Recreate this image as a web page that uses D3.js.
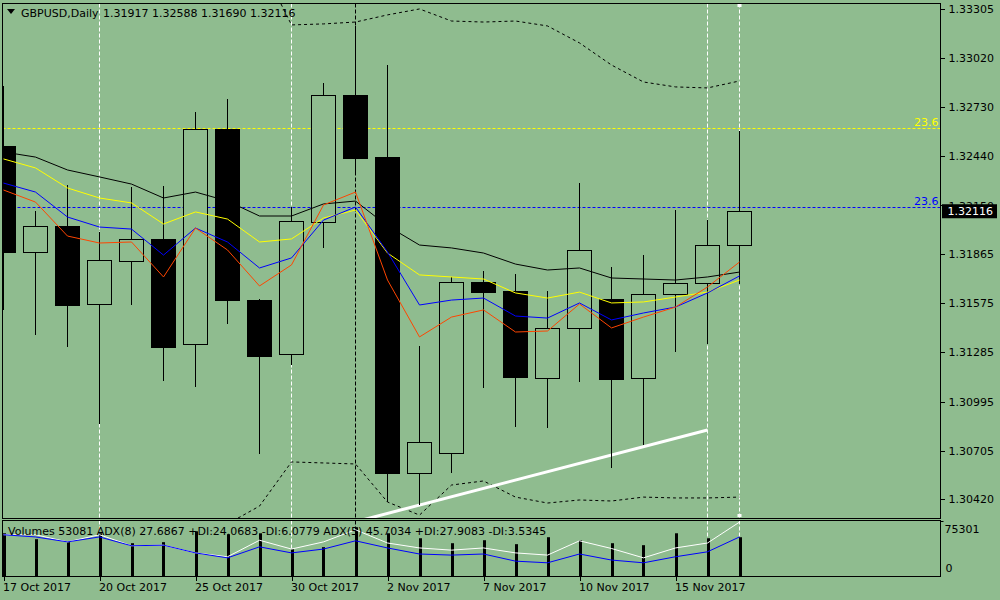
<!DOCTYPE html>
<html lang="en">
<head>
<meta charset="UTF-8">
<title>GBPUSD,Daily</title>
<script src="https://d3js.org/d3.v7.min.js"></script>
<style>
  body { margin: 0; background-color: #8fbc8f; }
  svg { display: block; }
  text { font-family: "DejaVu Sans", sans-serif; font-size: 11px; fill: #000; }
  .axis path { display: none; }
  .axis line { stroke: #000; shape-rendering: crispEdges; }
  .frame { fill: none; stroke: #000; shape-rendering: crispEdges; }
</style>
</head>
<body>
<div id="chart"></div>
<script>
// trading days
const dates = ["17 Oct 2017", "18 Oct 2017", "19 Oct 2017", "20 Oct 2017", "23 Oct 2017", "24 Oct 2017",
  "25 Oct 2017", "26 Oct 2017", "27 Oct 2017", "30 Oct 2017", "31 Oct 2017", "1 Nov 2017",
  "2 Nov 2017", "3 Nov 2017", "6 Nov 2017", "7 Nov 2017", "8 Nov 2017", "9 Nov 2017",
  "10 Nov 2017", "13 Nov 2017", "14 Nov 2017", "15 Nov 2017", "16 Nov 2017", "17 Nov 2017"];
const dateTickIdx = [0, 3, 6, 9, 12, 15, 18, 21];

// OHLC
const opens = [1.32500, 1.31876, 1.32029, 1.31570, 1.31823, 1.31953, 1.31334, 1.32600, 1.31593, 1.31275, 1.32053, 1.32800,
  1.32435, 1.30575, 1.30693, 1.31699, 1.31646, 1.31134, 1.31428, 1.31599, 1.31134, 1.31629, 1.31694, 1.31917];
const highs = [1.32853, 1.32117, 1.32271, 1.31994, 1.32259, 1.32265, 1.32700, 1.32777, 1.31599, 1.32141, 1.32871, 1.33207,
  1.32977, 1.31323, 1.31729, 1.31764, 1.31747, 1.31646, 1.32282, 1.31788, 1.31858, 1.32123, 1.32064, 1.32588];
const lows = [1.31535, 1.31387, 1.31317, 1.30863, 1.31564, 1.31116, 1.31081, 1.31452, 1.30687, 1.31211, 1.31900, 1.32329,
  1.30404, 1.30386, 1.30575, 1.31075, 1.30846, 1.30840, 1.31111, 1.30604, 1.30740, 1.31287, 1.31334, 1.31690];
const closes = [1.31876, 1.32029, 1.31564, 1.31829, 1.31953, 1.31317, 1.32600, 1.31593, 1.31264, 1.32059, 1.32800, 1.32429,
  1.30575, 1.30757, 1.31699, 1.31640, 1.31140, 1.31428, 1.31888, 1.31128, 1.31629, 1.31694, 1.31917, 1.32116];

// moving averages
const maBlack = [1.32465, 1.32435, 1.32359, 1.32318, 1.32276, 1.32194, 1.32229, 1.32176, 1.32088, 1.32088, 1.32159, 1.32176,
  1.32029, 1.31917, 1.31900, 1.31870, 1.31805, 1.31770, 1.31782, 1.31723, 1.31717, 1.31711, 1.31729, 1.31758];
const maYellow = [1.32424, 1.32371, 1.32253, 1.32194, 1.32165, 1.32041, 1.32112, 1.32070, 1.31935, 1.31953, 1.32076, 1.32123,
  1.31870, 1.31741, 1.31729, 1.31717, 1.31635, 1.31605, 1.31640, 1.31576, 1.31582, 1.31611, 1.31640, 1.31711];
const maBlue = [1.32282, 1.32229, 1.32082, 1.32023, 1.32011, 1.31858, 1.32017, 1.31935, 1.31782, 1.31841, 1.32064, 1.32141,
  1.31876, 1.31564, 1.31593, 1.31605, 1.31499, 1.31487, 1.31576, 1.31476, 1.31517, 1.31552, 1.31635, 1.31735];
const maRed = [1.32241, 1.32170, 1.31970, 1.31929, 1.31935, 1.31729, 1.32017, 1.31888, 1.31676, 1.31800, 1.32153, 1.32229,
  1.31711, 1.31376, 1.31493, 1.31535, 1.31405, 1.31411, 1.31570, 1.31429, 1.31493, 1.31552, 1.31670, 1.31817];

// dashed bands
const bandUpper = [null, null, null, null, null, null, null, null, 1.33589, 1.33213, 1.33219, 1.33230,
  1.33272, 1.33307, 1.33236, 1.33230, 1.33236, 1.33207, 1.33107, 1.32977, 1.32877, 1.32848, 1.32842, 1.32883];
const bandLower = [null, null, null, null, null, null, null, 1.30275, 1.30380, 1.30640, 1.30634, 1.30628,
  1.30404, 1.30327, 1.30504, 1.30528, 1.30433, 1.30398, 1.30416, 1.30410, 1.30433, 1.30428, 1.30428, 1.30433];

// fibo levels
const fibValues = [1.32609, 1.32141];
const fibLabels = ["23.6", "23.6"];

// trend line (two anchor points: index, price)
const trendIdx = [13, 22];
const trendPrice = [1.30386, 1.30828];

// vertical lines
const whiteLines = [3, 9, 22, 23];
const blackLines = [11];

// sub window
const volumes = [58500, 50400, 46300, 58500, 44900, 46300, 61200, 57200, 58500, 36700, 39500, 66700,
  58500, 51700, 44900, 49000, 43600, 53100, 49000, 44900, 42200, 58500, 51700, 53081];
const adxWhite = [75, 75, 62, 75, 55, 56, 42, 35, 65, 49, 62, 84, 60, 51, 47, 51, 42, 38, 64, 50, 33, 51, 60, 98];
const adxBlue = [75, 71, 62, 71, 55, 56, 42, 33, 53, 42, 49, 64, 51, 40, 38, 40, 27, 24, 40, 29, 24, 35, 44, 71];
const volMax = 75301;

const priceTicks = [1.33305, 1.33020, 1.32730, 1.32440, 1.32150, 1.31865, 1.31575, 1.31285, 1.30995, 1.30705, 1.30420];

const headerText = "GBPUSD,Daily";
const headerValues = "1.31917 1.32588 1.31690 1.32116";
const subText = "Volumes 53081  ADX(8) 27.6867 +DI:24.0683 -DI:6.0779  ADX(5) 45.7034 +DI:27.9083 -DI:3.5345";

// layout
const width = 1000, height = 600;
const left = 2.5, right = 940.5;
const mainTop = 3.5, mainBottom = 518.5;
const volTop = 520.5, volBottom = 576.5;
const bg = "#8fbc8f";

const svg = d3.select("#chart").append("svg")
  .attr("width", width)
  .attr("height", height);

const x = d3.scaleLinear().domain([0, 23]).range([3.5, 739.5]);
const y = d3.scaleLinear().domain([1.30420, 1.33305]).range([499.3, 9.3]);
const yVol = d3.scaleLinear().domain([0, volMax]).range([576, 521]);
const yAdx = d3.scaleLinear().domain([0, 100]).range([576, 521]);

const snap = v => Math.round(v) + 0.5;

// clip areas
const defs = svg.append("defs");
defs.append("clipPath").attr("id", "clipMain").append("rect")
  .attr("x", left + 0.5).attr("y", mainTop + 0.5)
  .attr("width", right - left - 1).attr("height", mainBottom - mainTop - 1);
defs.append("clipPath").attr("id", "clipVol").append("rect")
  .attr("x", left + 0.5).attr("y", volTop + 0.5)
  .attr("width", right - left - 1).attr("height", volBottom - volTop - 1);

const main = svg.append("g").attr("clip-path", "url(#clipMain)");
const sub = svg.append("g").attr("clip-path", "url(#clipVol)");

// vertical lines, both windows
[main, sub].forEach((g, k) => {
  const y0 = k === 0 ? mainTop : volTop;
  const y1 = k === 0 ? mainBottom : volBottom;
  g.selectAll(".vw").data(whiteLines).enter().append("line")
    .attr("x1", d => x(d)).attr("x2", d => x(d))
    .attr("y1", y0).attr("y2", y1)
    .attr("stroke", "#fff").attr("stroke-dasharray", "4,2");
  g.selectAll(".vb").data(blackLines).enter().append("line")
    .attr("x1", d => x(d)).attr("x2", d => x(d))
    .attr("y1", y0).attr("y2", y1)
    .attr("stroke", "#000").attr("stroke-dasharray", "4,2");
});

// fibo horizontal levels
const fibColors = ["#ffff00", "#0000ff"];
main.selectAll(".fib").data(fibValues).enter().append("line")
  .attr("x1", left).attr("x2", right)
  .attr("y1", d => snap(y(d))).attr("y2", d => snap(y(d)))
  .attr("stroke", (d, i) => fibColors[i])
  .attr("stroke-dasharray", "3,2");
svg.selectAll(".fibLabel").data(fibValues).enter().append("text")
  .attr("x", right - 2).attr("y", d => y(d) - 2)
  .attr("text-anchor", "end")
  .style("fill", (d, i) => fibColors[i])
  .text((d, i) => fibLabels[i]);

// dashed bands
const line = d3.line()
  .defined(d => d != null)
  .x((d, i) => x(i))
  .y(d => y(d));
[bandUpper, bandLower].forEach(b => {
  main.append("path")
    .datum(b)
    .attr("d", line)
    .attr("fill", "none")
    .attr("stroke", "#000")
    .attr("stroke-dasharray", "3,3");
});

// trend line, extended to the left
const slope = (trendPrice[1] - trendPrice[0]) / (trendIdx[1] - trendIdx[0]);
const trendStart = trendIdx[0] - 4;
main.append("line")
  .attr("x1", x(trendStart))
  .attr("y1", y(trendPrice[0] - slope * 4))
  .attr("x2", x(trendIdx[1]))
  .attr("y2", y(trendPrice[1]))
  .attr("stroke", "#fff")
  .attr("stroke-width", 3);

// candles
const idx = d3.range(dates.length);
main.selectAll(".wick").data(idx).enter().append("line")
  .attr("x1", i => x(i)).attr("x2", i => x(i))
  .attr("y1", i => y(highs[i])).attr("y2", i => y(lows[i]))
  .attr("stroke", "#000")
  .style("shape-rendering", "crispEdges");
main.selectAll(".body").data(idx).enter().append("rect")
  .attr("x", i => x(i) - 12)
  .attr("width", 24)
  .attr("y", i => snap(y(Math.max(opens[i], closes[i]))))
  .attr("height", i => Math.max(1, Math.round(y(Math.min(opens[i], closes[i])) - y(Math.max(opens[i], closes[i])))))
  .attr("fill", i => closes[i] < opens[i] ? "#000" : bg)
  .attr("stroke", "#000")
  .style("shape-rendering", "crispEdges");

// moving averages on top
const maList = [maBlack, maYellow, maBlue, maRed];
const maColors = ["#000", "#ffff00", "#0000ff", "#ff4500"];
maList.forEach((m, k) => {
  main.append("path")
    .datum(m)
    .attr("d", line)
    .attr("fill", "none")
    .attr("stroke", maColors[k])
    .attr("stroke-width", 1);
});

// little white markers of the last vertical line
main.append("rect").attr("x", x(23) - 2).attr("y", 4).attr("width", 4).attr("height", 3).attr("fill", "#fff");
main.append("rect").attr("x", x(23) - 2).attr("y", 514).attr("width", 4).attr("height", 3).attr("fill", "#fff");

// volume bars
sub.selectAll(".vol").data(volumes).enter().append("rect")
  .attr("x", (d, i) => Math.round(x(i)) - 1)
  .attr("width", 3)
  .attr("y", d => yVol(d))
  .attr("height", d => yVol(0) - yVol(d))
  .attr("fill", "#000");

const adxLine = d3.line().x((d, i) => x(i)).y(d => yAdx(d));
sub.append("path").datum(adxWhite).attr("d", adxLine)
  .attr("fill", "none").attr("stroke", "#fff");
sub.append("path").datum(adxBlue).attr("d", adxLine)
  .attr("fill", "none").attr("stroke", "#0000ff");

// frames
svg.append("rect").attr("class", "frame")
  .attr("x", left).attr("y", mainTop)
  .attr("width", right - left).attr("height", mainBottom - mainTop);
svg.append("rect").attr("class", "frame")
  .attr("x", left).attr("y", volTop)
  .attr("width", right - left).attr("height", volBottom - volTop);

// price axis
const yAxis = svg.append("g")
  .attr("class", "axis")
  .attr("transform", `translate(${right},0)`)
  .call(d3.axisRight(y).tickValues(priceTicks).tickSize(4).tickPadding(4).tickFormat(d3.format(".5f")));
yAxis.selectAll("text").style("font-family", "DejaVu Sans").style("font-size", "11px").attr("fill", "#000");

// current price box
const last = closes[closes.length - 1];
svg.append("rect")
  .attr("x", right + 1.5).attr("y", y(last) - 7)
  .attr("width", 55).attr("height", 14)
  .attr("fill", "#000");
svg.append("text")
  .attr("x", right + 7).attr("y", y(last) + 4)
  .style("fill", "#fff")
  .text(d3.format(".5f")(last));

// volume axis labels
svg.append("line").attr("x1", right).attr("x2", right + 3)
  .attr("y1", snap(yVol(volMax))).attr("y2", snap(yVol(volMax))).attr("stroke", "#000");
svg.append("text").attr("x", right + 4).attr("y", yVol(volMax) + 12).text(volMax);
svg.append("text").attr("x", right + 5).attr("y", yVol(0) - 4).text("0");

// date axis
const xAxis = svg.append("g")
  .attr("class", "axis")
  .attr("transform", `translate(0,${volBottom})`)
  .call(d3.axisBottom(x).tickValues(dateTickIdx).tickSize(4).tickPadding(3).tickFormat(i => dates[i]));
xAxis.selectAll("text")
  .attr("text-anchor", "start")
  .attr("dx", "-1")
  .style("font-family", "DejaVu Sans").style("font-size", "11px").attr("fill", "#000");

// header
svg.append("path")
  .attr("d", "M7,9 L15,9 L11,14 Z")
  .attr("fill", "#000");
svg.append("text").attr("x", 21).attr("y", 17).text(headerText);
svg.append("text").attr("x", 103).attr("y", 17).text(headerValues);
svg.append("text").attr("x", 8).attr("y", 535).text(subText);
</script>
</body>
</html>
